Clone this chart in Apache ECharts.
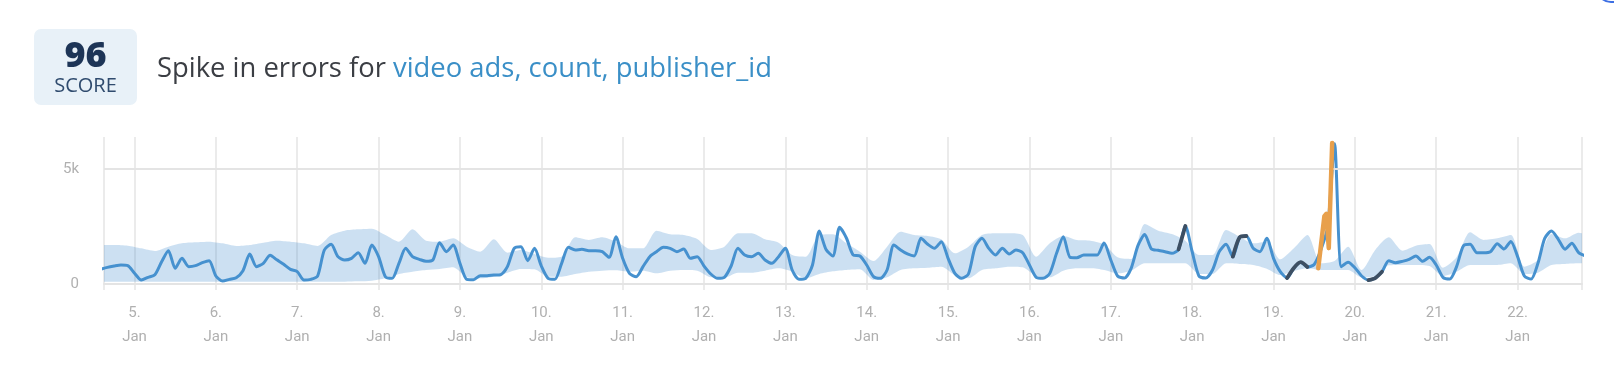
<!DOCTYPE html>
<html><head><meta charset="utf-8">
<script src="https://cdn.jsdelivr.net/npm/echarts@6/dist/echarts.min.js"></script>
<style>html,body{margin:0;padding:0;background:#fff;}#c{width:1614px;height:380px;}</style>
</head><body><div id="c"></div>
<script>
// ---- time base ----
const HOUR = 3600e3;
const START = new Date(2021, 0, 4, 14, 0, 0).getTime();   // first sample
const AXIS_MIN = new Date(2021, 0, 4, 15, 0, 0).getTime();
const AXIS_MAX = new Date(2021, 0, 22, 19, 0, 0).getTime();
const MAIN_STEP_H = 2;   // hours between main samples
const BAND_STEP_H = 4;   // hours between band samples

// ---- header texts ----
const scoreValue = '96';
const scoreLabel = 'SCORE';
const titlePrefix = 'Spike in errors for ';
const titleLink = 'video ads, count, publisher_id';
const monthLabel = 'Jan';
const yTickValues = [0, 5000];

// ---- observed series (every 2 h) ----
const mainValues = [
  638,725,783,826,800,470,174,290,406,971,1450,680,1116,754,797,928,1015,348,130,203,
  275,580,1300,754,900,1250,1050,855,638,537,174,203,348,1479,1725,1190,1044,1116,1363,899,
  1700,1190,319,246,899,1551,1190,1073,986,1044,1798,1406,1700,899,203,188,362,362,391,406,
  754,1551,1624,1015,1551,783,246,203,899,1595,1479,1508,1450,1450,1406,1160,2059,1116,464,319,
  754,1189,1406,1595,1551,1406,1522,1116,1189,783,435,246,290,783,1551,1261,1189,1334,1044,899,
  1189,1550,609,203,246,826,2300,1500,1218,2465,2000,1261,1218,826,319,246,609,1696,1479,1305,
  1218,1986,1725,1551,1841,1116,464,246,435,1624,1986,1551,1261,1551,1305,1479,1363,826,290,246,
  464,1334,2059,1160,1145,1261,1261,1261,1780,1044,348,261,681,1667,2150,1522,1464,1406,1334,1508,
  2523,1406,348,261,609,1406,1725,1190,2030,2088,1551,1406,1986,1116,536,261,700,950,740,850,
  1500,2500,6100,750,950,710,348,174,261,536,1015,928,986,1073,1218,986,1160,826,290,218,
  754,1653,1725,1363,1363,1406,1750,1522,1850,1189,348,218,899,1986,2300,1943,1508,1769,1363,1220
];

// ---- expected band (every 4 h) ----
const bandUpper = [
  1697,1697,1668,1551,1435,1624,1769,1812,1841,1769,1653,1697,1798,1885,1841,1769,1653,2131,2320,2378,
  2407,2131,1841,2378,1885,1841,1986,1624,1406,1943,1363,1479,1305,1145,1189,2030,1914,2030,1841,1551,
  1551,2320,2160,2131,1957,1479,1624,2204,2204,1943,1798,1261,1189,2131,2160,1769,1406,1000,1624,2276,
  2131,2088,1943,1334,1624,2131,2204,2204,2131,1189,1769,2088,1914,1885,1725,1160,1088,2610,2320,2175,
  1885,1261,1261,2349,2059,1769,1841,1073,1551,2131,900,1000,1624,609,1479,2030,1450,1667,1740,710,
  1160,2247,1914,1986,2131,754,1044,2175,1986,2233,2059
];
const bandLower = [
  100,100,100,100,100,100,100,100,100,100,100,100,100,100,100,100,100,100,100,116,
  145,246,435,536,609,652,725,290,246,319,493,652,638,319,319,435,536,580,595,536,
  580,464,580,609,580,290,275,493,493,580,681,536,246,435,551,609,638,174,290,609,
  681,710,754,391,246,609,681,754,725,348,290,580,681,681,609,464,580,899,899,899,
  899,435,435,899,870,826,667,391,565,681,609,609,609,290,348,812,826,826,783,348,
  536,826,826,826,899,435,493,826,870,899,899
];

// ---- anomalies ----
const darkRanges = [[159, 160], [167, 169], [175, 178], [187, 189]]; // main sample indices
const spikeHours = [359.2, 361.0, 361.6, 362.3, 363.3];              // hours after START
const spikeValues = [682, 2950, 3050, 1560, 6130];

// ---- build data ----
const mainData = mainValues.map((v, i) => [START + i * MAIN_STEP_H * HOUR, v]);
const lowerData = bandLower.map((v, j) => [START + j * BAND_STEP_H * HOUR, v]);
const diffData = bandUpper.map((v, j) => [START + j * BAND_STEP_H * HOUR, v - bandLower[j]]);
const SMOOTH = 0.25;
const darkSeries = darkRanges.map(r => ({
  type: 'line', data: mainData.slice(r[0], r[1] + 1), symbol: 'none', z: 5, smooth: SMOOTH,
  lineStyle: { color: '#3d4f63', width: 3.8, cap: 'round', join: 'round' }
}));
const spikeData = spikeHours.map((h, k) => [START + h * HOUR, spikeValues[k]]);

const chart = echarts.init(document.getElementById('c'), null, { renderer: 'canvas' });
const GRID = '#e4e4e4';
const LABEL = '#b0b0b0';
chart.setOption({
  animation: false,
  grid: { left: 104, right: 32, top: 137, bottom: 90, containLabel: false },
  xAxis: {
    type: 'time', min: AXIS_MIN, max: AXIS_MAX,
    minInterval: 24 * HOUR, maxInterval: 24 * HOUR,
    axisLine: { lineStyle: { color: GRID, width: 2 } },
    axisTick: { show: false },
    splitLine: { show: true, lineStyle: { color: GRID, width: 1.5 } },
    axisLabel: {
      color: LABEL, fontSize: 15, lineHeight: 24, margin: 11, fontFamily: 'Roboto',
      hideOverlap: false,
      formatter: function (val) {
        const d = new Date(val);
        if (d.getHours() !== 0 || d.getMinutes() !== 0) return '';
        return d.getDate() + '.\n' + monthLabel;
      }
    }
  },
  yAxis: {
    type: 'value', min: -260, max: 6390,
    splitLine: { show: false }, axisLine: { show: false }, axisTick: { show: false },
    axisLabel: {
      customValues: yTickValues, color: LABEL, fontSize: 15, margin: 25, fontFamily: 'Roboto',
      formatter: v => v >= 1000 ? (v / 1000) + 'k' : String(v)
    }
  },
  series: [
    {
      type: 'line', data: lowerData, stack: 'band', symbol: 'none', z: 1, smooth: SMOOTH,
      lineStyle: { width: 0, opacity: 0 },
      markLine: {
        silent: true, symbol: 'none', label: { show: false },
        lineStyle: { color: GRID, width: 2, type: 'solid' },
        data: yTickValues.map(v => ({ yAxis: v }))
      }
    },
    {
      type: 'line', data: diffData, stack: 'band', symbol: 'none', z: 2, smooth: SMOOTH,
      lineStyle: { width: 0, opacity: 0 },
      areaStyle: { color: 'rgba(80,148,210,0.42)' }
    },
    {
      type: 'line', data: mainData, symbol: 'none', z: 4, smooth: SMOOTH,
      lineStyle: { color: '#4691cf', width: 3, join: 'round' }
    },
    ...darkSeries,
    {
      type: 'line', data: spikeData, symbol: 'none', z: 6,
      lineStyle: { color: '#e8a04c', width: 4.5, cap: 'round', join: 'round' }
    }
  ],
  graphic: [
    { type: 'rect', shape: { x: 34, y: 29, width: 103, height: 76, r: 7 }, style: { fill: '#e8f1f8' } },
    { type: 'text', x: 85.5, y: 57, style: { text: scoreValue, font: '800 36px "Open Sans"', fill: '#1d3557', align: 'center', verticalAlign: 'middle' } },
    { type: 'text', x: 85.5, y: 86, style: { text: scoreLabel, font: '20px "Open Sans"', fill: '#2f4b6e', align: 'center', verticalAlign: 'middle' } },
    { type: 'text', x: 157, y: 69, style: {
        text: '{a|' + titlePrefix + '}{b|' + titleLink + '}', verticalAlign: 'middle',
        rich: {
          a: { fontFamily: 'Open Sans', fontSize: 27.4, fill: '#3b3e44', color: '#3b3e44' },
          b: { fontFamily: 'Open Sans', fontSize: 27.4, fill: '#3a8fc7', color: '#3a8fc7' }
        }
      } },
    { type: 'rect', shape: { x: 1597, y: -40, width: 100, height: 42, r: 14 }, style: { fill: 'none', stroke: '#3d6fe3', lineWidth: 2 } }
  ]
});
</script>
</body></html>
